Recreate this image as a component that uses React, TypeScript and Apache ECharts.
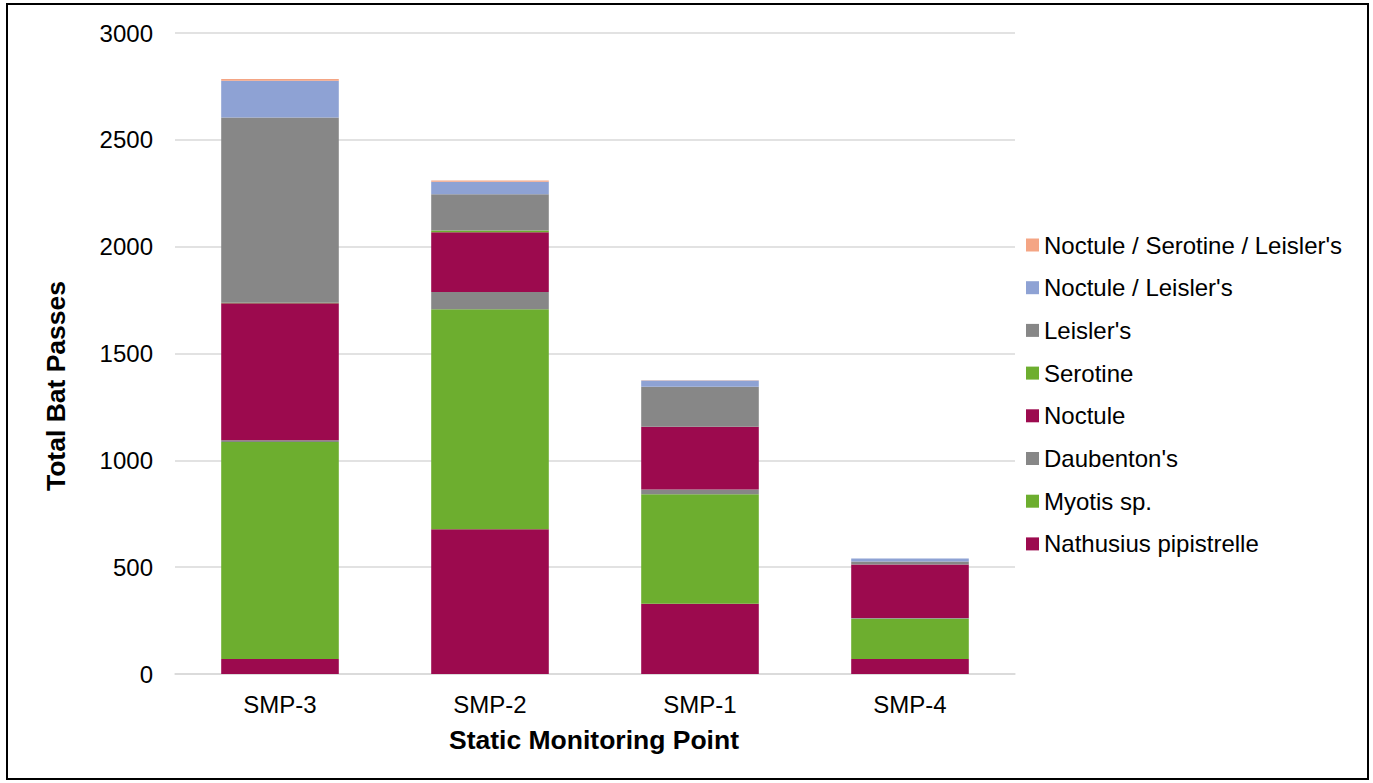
import React, { useEffect, useRef } from "react";
import * as echarts from "echarts";

const categories = ["SMP-3", "SMP-2", "SMP-1", "SMP-4"];
const seriesNames = [
  "Nathusius pipistrelle",
  "Myotis sp.",
  "Daubenton's",
  "Noctule",
  "Serotine",
  "Leisler's",
  "Noctule / Leisler's",
  "Noctule / Serotine / Leisler's",
];
const nathusius = [70, 678, 329, 70];
const myotis = [1016, 1029, 512, 189];
const daubentons = [8, 81, 23, 3];
const noctule = [641, 279, 293, 251];
const serotine = [2, 9, 0, 0];
const leislers = [868, 169, 187, 14];
const noctuleLeislers = [172, 59, 30, 14];
const noctuleSerotineLeislers = [8, 6, 1, 0];
const seriesValues = [
  nathusius,
  myotis,
  daubentons,
  noctule,
  serotine,
  leislers,
  noctuleLeislers,
  noctuleSerotineLeislers,
];
const colors = [
  "#9C0A4E",
  "#6DAE2F",
  "#878787",
  "#9C0A4E",
  "#6DAE2F",
  "#878787",
  "#8EA2D4",
  "#F4A584",
];
const yTicks = { min: 0, max: 3000, interval: 500 };
const xTitle = "Static Monitoring Point";
const yTitle = "Total Bat Passes";

const FONT = "'Liberation Sans', Arial, sans-serif";

export default function App() {
  const ref = useRef<HTMLDivElement>(null);
  useEffect(() => {
    if (!ref.current) return;
    const chart = echarts.init(ref.current, null, { renderer: "svg" });
    chart.setOption({
      animation: false,
      backgroundColor: "#ffffff",
      textStyle: { fontFamily: FONT },
      graphic: [
        {
          type: "rect",
          shape: { x: 7, y: 4, width: 1361, height: 775 },
          style: { fill: "none", stroke: "#000", lineWidth: 2 },
          silent: true,
        },
        {
          type: "text",
          x: 594,
          y: 740,
          style: {
            text: xTitle,
            font: `bold 26.5px ${FONT}`,
            fill: "#000",
            align: "center",
            verticalAlign: "middle",
          },
          silent: true,
        },
        {
          type: "text",
          x: 56,
          y: 386,
          rotation: Math.PI / 2,
          style: {
            text: yTitle,
            font: `bold 26.5px ${FONT}`,
            fill: "#000",
            align: "center",
            verticalAlign: "middle",
          },
          silent: true,
        },
      ],
      grid: { left: 175, right: 358, top: 33, bottom: 109, containLabel: false },
      legend: {
        orient: "vertical",
        left: 1026,
        top: 233,
        padding: 0,
        itemWidth: 13,
        itemHeight: 13,
        itemGap: 18.7,
        icon: "rect",
        data: [...seriesNames].reverse(),
        textStyle: { fontSize: 24, color: "#000", fontFamily: FONT, lineHeight: 24 },
      },
      xAxis: {
        type: "category",
        data: categories,
        axisLine: { show: true, lineStyle: { color: "#d9d9d9", width: 1.5 } },
        axisTick: { show: false },
        axisLabel: { fontSize: 24, color: "#000", margin: 18, fontFamily: FONT },
      },
      yAxis: {
        type: "value",
        min: yTicks.min,
        max: yTicks.max,
        interval: yTicks.interval,
        axisLine: { show: false },
        axisTick: { show: false },
        axisLabel: {
          fontSize: 24,
          color: "#000",
          margin: 22,
          fontFamily: FONT,
          formatter: (v: number) => String(v),
        },
        splitLine: { lineStyle: { color: "#d9d9d9", width: 1.5 } },
      },
      series: seriesNames.map((name, i) => ({
        name,
        type: "bar",
        stack: "total",
        barWidth: "56%",
        data: seriesValues[i],
        itemStyle: { color: colors[i] },
      })),
    });
    return () => chart.dispose();
  }, []);
  return (
    <div
      ref={ref}
      style={{ position: "absolute", left: 0, top: 0, width: 1373, height: 783 }}
    />
  );
}
